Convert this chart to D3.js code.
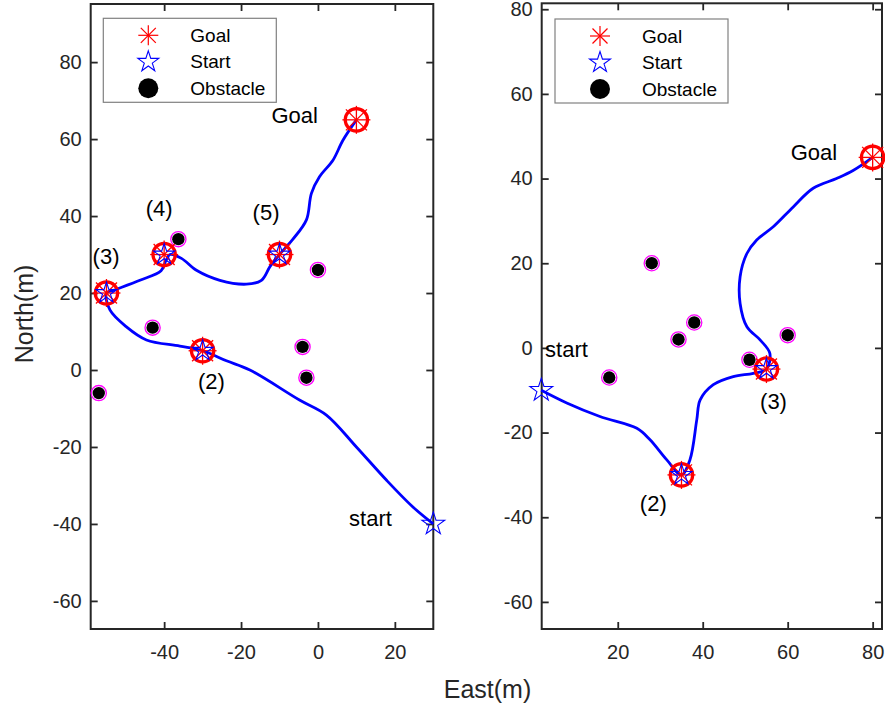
<!DOCTYPE html>
<html>
<head>
<meta charset="utf-8">
<script src="https://cdn.jsdelivr.net/npm/d3@7"></script>
<style>
  body { margin: 0; background: #fff; }
  svg { display: block; font-family: "Liberation Sans", Arial, sans-serif; }
</style>
</head>
<body>
<div id="chart"></div>
<script>
// -------- Data: left panel --------
const leftPath = [
  [30, -40], [24.7, -35.6], [17.8, -28.6], [10, -20], [2.2, -11.7], [-4.8, -7.8],
  [-17.7, 0], [-23.8, 2.4], [-30, 5],
  [-35.9, 6.2], [-44.6, 7.8], [-49.8, 11.2], [-54.1, 15.6], [-55, 20],
  [-53.2, 20.7], [-46.3, 23.3], [-40.8, 25.8], [-39.5, 28.5], [-38.5, 30],
  [-35.5, 29], [-31.6, 25.9], [-25.5, 23.3], [-18.6, 22.3], [-14.7, 23.3], [-12.4, 27], [-10, 30],
  [-6.5, 34], [-3, 39], [-1.7, 45.9], [0.4, 50.2], [3.9, 54.5], [6.5, 59.7], [10, 65]
];
const leftStart = [30, -40];
const leftGoal = [10, 65];
const leftWaypoints = [[-30, 5], [-55, 20], [-40, 30], [-10, 30]];
const leftObstacles = [[-36.3, 34], [0, 26], [-43, 11], [-4, 6], [-3, -2], [-57, -6]];
const leftLabels = [
  ['Goal', -12.1, 64.1], ['(5)', -17, 38.9], ['(4)', -44.8, 40], ['(3)', -58.6, 27.5],
  ['(2)', -31.2, -5], ['start', 8.1, -40.6]
];
const leftXTicks = [-40, -20, 0, 20];
const leftYTicks = [-60, -40, -20, 0, 20, 40, 60, 80];

// -------- Data: right panel --------
const rightPath = [
  [2, -10], [8, -13], [15.8, -16.2], [24.5, -19], [27.6, -21.7], [31.5, -26.4], [35, -30],
  [37, -26.4], [38.6, -17], [39.4, -12.3], [42.5, -8.7], [47.2, -6.8], [51.9, -6], [55, -5],
  [55.8, -1.3], [53.5, 1.9], [50.4, 5], [48.8, 10.5], [48.8, 16.8], [50.4, 22.3], [52.7, 25.5],
  [56.6, 28.6], [61.3, 33.3], [66, 37.7], [71.5, 40], [75.4, 41.9], [80, 45]
];
const rightStart = [2, -10];
const rightGoal = [80, 45];
const rightWaypoints = [[35, -30], [55, -5]];
const rightObstacles = [[18, -7], [28, 20], [34.3, 2], [38, 6], [51, -2.8], [60, 3]];
const rightLabels = [
  ['Goal', 60.7, 44.4], ['start', 2.9, -2.1], ['(3)', 53.5, -14.4], ['(2)', 25.2, -38.5]
];
const rightXTicks = [20, 40, 60, 80];
const rightYTicks = [-60, -40, -20, 0, 20, 40, 60, 80];

const legendKeys = ['Goal', 'Start', 'Obstacle'];

// -------- SVG --------
const W = 885, H = 711;
const svg = d3.select('#chart').append('svg')
  .attr('width', W).attr('height', H);

const axisColor = '#262626';
const plain = d => String(d); // hyphen minus like the original

// star outline path (pentagram)
function starPath(R) {
  const r = R * 0.382;
  const pts = [];
  for (let i = 0; i < 10; i++) {
    const a = -Math.PI / 2 + i * Math.PI / 5;
    const rr = i % 2 === 0 ? R : r;
    pts.push([rr * Math.cos(a), rr * Math.sin(a)]);
  }
  return 'M' + pts.map(p => p.join(',')).join('L') + 'Z';
}

function asterisk(g, s, w) {
  const d = s * 0.75;
  const segs = [[-s, 0, s, 0], [0, -s, 0, s], [-d, -d, d, d], [-d, d, d, -d]];
  segs.forEach(q => g.append('line')
    .attr('x1', q[0]).attr('y1', q[1]).attr('x2', q[2]).attr('y2', q[3])
    .attr('stroke', '#ff0000').attr('stroke-width', w));
}

function goalMark(g, circle) {
  if (circle) {
    g.append('circle').attr('r', 11.2).attr('fill', 'none')
      .attr('stroke', '#ff0000').attr('stroke-width', 3.2);
  }
  asterisk(g, circle ? 14 : 10, 1.3);
}

function startMark(g, R) {
  g.append('path').attr('d', starPath(R)).attr('fill', 'none')
    .attr('stroke', '#0000ff').attr('stroke-width', 1.1);
}

function panel(cfg) {
  const x = d3.scaleLinear().domain(cfg.xDomain).range(cfg.xRange);
  const y = d3.scaleLinear().domain(cfg.yDomain).range(cfg.yRange);
  const g = svg.append('g');
  const [x0, x1] = cfg.xRange, [y0, y1] = [cfg.yRange[1], cfg.yRange[0]];

  // axes (inward ticks on all four sides)
  const fs = '20px';
  const bottom = g.append('g').attr('transform', `translate(0,${y1})`)
    .call(d3.axisBottom(x).tickValues(cfg.xTicks).tickSize(-7).tickPadding(16).tickFormat(plain));
  const left = g.append('g').attr('transform', `translate(${x0},0)`)
    .call(d3.axisLeft(y).tickValues(cfg.yTicks).tickSize(-7).tickPadding(9).tickFormat(plain));
  const top = g.append('g').attr('transform', `translate(0,${y0})`)
    .call(d3.axisTop(x).tickValues(cfg.xTicks).tickSize(-7).tickFormat(''));
  const right = g.append('g').attr('transform', `translate(${x1},0)`)
    .call(d3.axisRight(y).tickValues(cfg.yTicks).tickSize(-7).tickFormat(''));
  [bottom, left, top, right].forEach(a => {
    a.select('.domain').remove();
    a.selectAll('line').attr('stroke', axisColor).attr('stroke-width', 1.8);
    a.selectAll('text').attr('fill', axisColor).style('font-size', fs)
      .style('font-family', '"Liberation Sans", Arial, sans-serif');
  });
  g.append('rect').attr('x', x0).attr('y', y0).attr('width', x1 - x0).attr('height', y1 - y0)
    .attr('fill', 'none').attr('stroke', axisColor).attr('stroke-width', 2);

  // path
  g.append('path').datum(cfg.path)
    .attr('d', d3.line().x(d => x(d[0])).y(d => y(d[1])).curve(d3.curveCatmullRom.alpha(0.5)))
    .attr('fill', 'none').attr('stroke', '#0000ff').attr('stroke-width', 2.8);

  // obstacles
  cfg.obstacles.forEach(o => {
    const og = g.append('g').attr('transform', `translate(${x(o[0])},${y(o[1])})`);
    og.append('circle').attr('r', 7.6).attr('fill', '#fff')
      .attr('stroke', '#ff00ff').attr('stroke-width', 1.3);
    og.append('circle').attr('r', 6.2).attr('fill', '#000');
  });

  // waypoints
  cfg.waypoints.forEach(p => {
    const wg = g.append('g').attr('transform', `translate(${x(p[0])},${y(p[1])})`);
    goalMark(wg, true);
    startMark(wg, 11);
  });
  const gg = g.append('g').attr('transform', `translate(${x(cfg.goal[0])},${y(cfg.goal[1])})`);
  goalMark(gg, true);
  const sg = g.append('g').attr('transform', `translate(${x(cfg.start[0])},${y(cfg.start[1])})`);
  startMark(sg, 12);

  // annotations
  g.selectAll('text.note').data(cfg.labels).join('text')
    .attr('class', 'note')
    .attr('x', d => x(d[1])).attr('y', d => y(d[2]))
    .attr('fill', '#000').style('font-size', '22px')
    .text(d => d[0]);

  // legend
  const lg = g.append('g').attr('transform', `translate(${cfg.legend[0]},${cfg.legend[1]})`);
  lg.append('rect').attr('width', 173).attr('height', 84)
    .attr('fill', '#fff').attr('stroke', '#808080').attr('stroke-width', 1.2);
  legendKeys.forEach((k, i) => {
    const row = lg.append('g').attr('transform', `translate(45,${17 + i * 26.5})`);
    if (k === 'Goal') asterisk(row, 10, 1.2);
    else if (k === 'Start') startMark(row, 11);
    else row.append('circle').attr('r', 10).attr('fill', '#000');
    lg.append('text').attr('x', 87).attr('y', 17 + i * 26.5).attr('dy', '0.35em')
      .attr('fill', '#000').style('font-size', '19px').text(k);
  });
}

panel({
  xDomain: [-59.1, 30], xRange: [90.7, 433.3],
  yDomain: [-67.3, 95.1], yRange: [629, 4],
  xTicks: leftXTicks, yTicks: leftYTicks,
  path: leftPath, start: leftStart, goal: leftGoal,
  waypoints: leftWaypoints, obstacles: leftObstacles, labels: leftLabels,
  legend: [103.3, 18.3]
});

panel({
  xDomain: [2.1, 82.2], xRange: [541.7, 882],
  yDomain: [-66.4, 81.4], yRange: [629, 3.3],
  xTicks: rightXTicks, yTicks: rightYTicks,
  path: rightPath, start: rightStart, goal: rightGoal,
  waypoints: rightWaypoints, obstacles: rightObstacles, labels: rightLabels,
  legend: [555, 19]
});

// axis titles
svg.append('text').attr('x', 487.5).attr('y', 698).attr('text-anchor', 'middle')
  .attr('fill', axisColor).style('font-size', '25px').text('East(m)');
svg.append('text').attr('transform', 'translate(33,314) rotate(-90)').attr('text-anchor', 'middle')
  .attr('fill', axisColor).style('font-size', '25px').text('North(m)');
</script>
</body>
</html>
